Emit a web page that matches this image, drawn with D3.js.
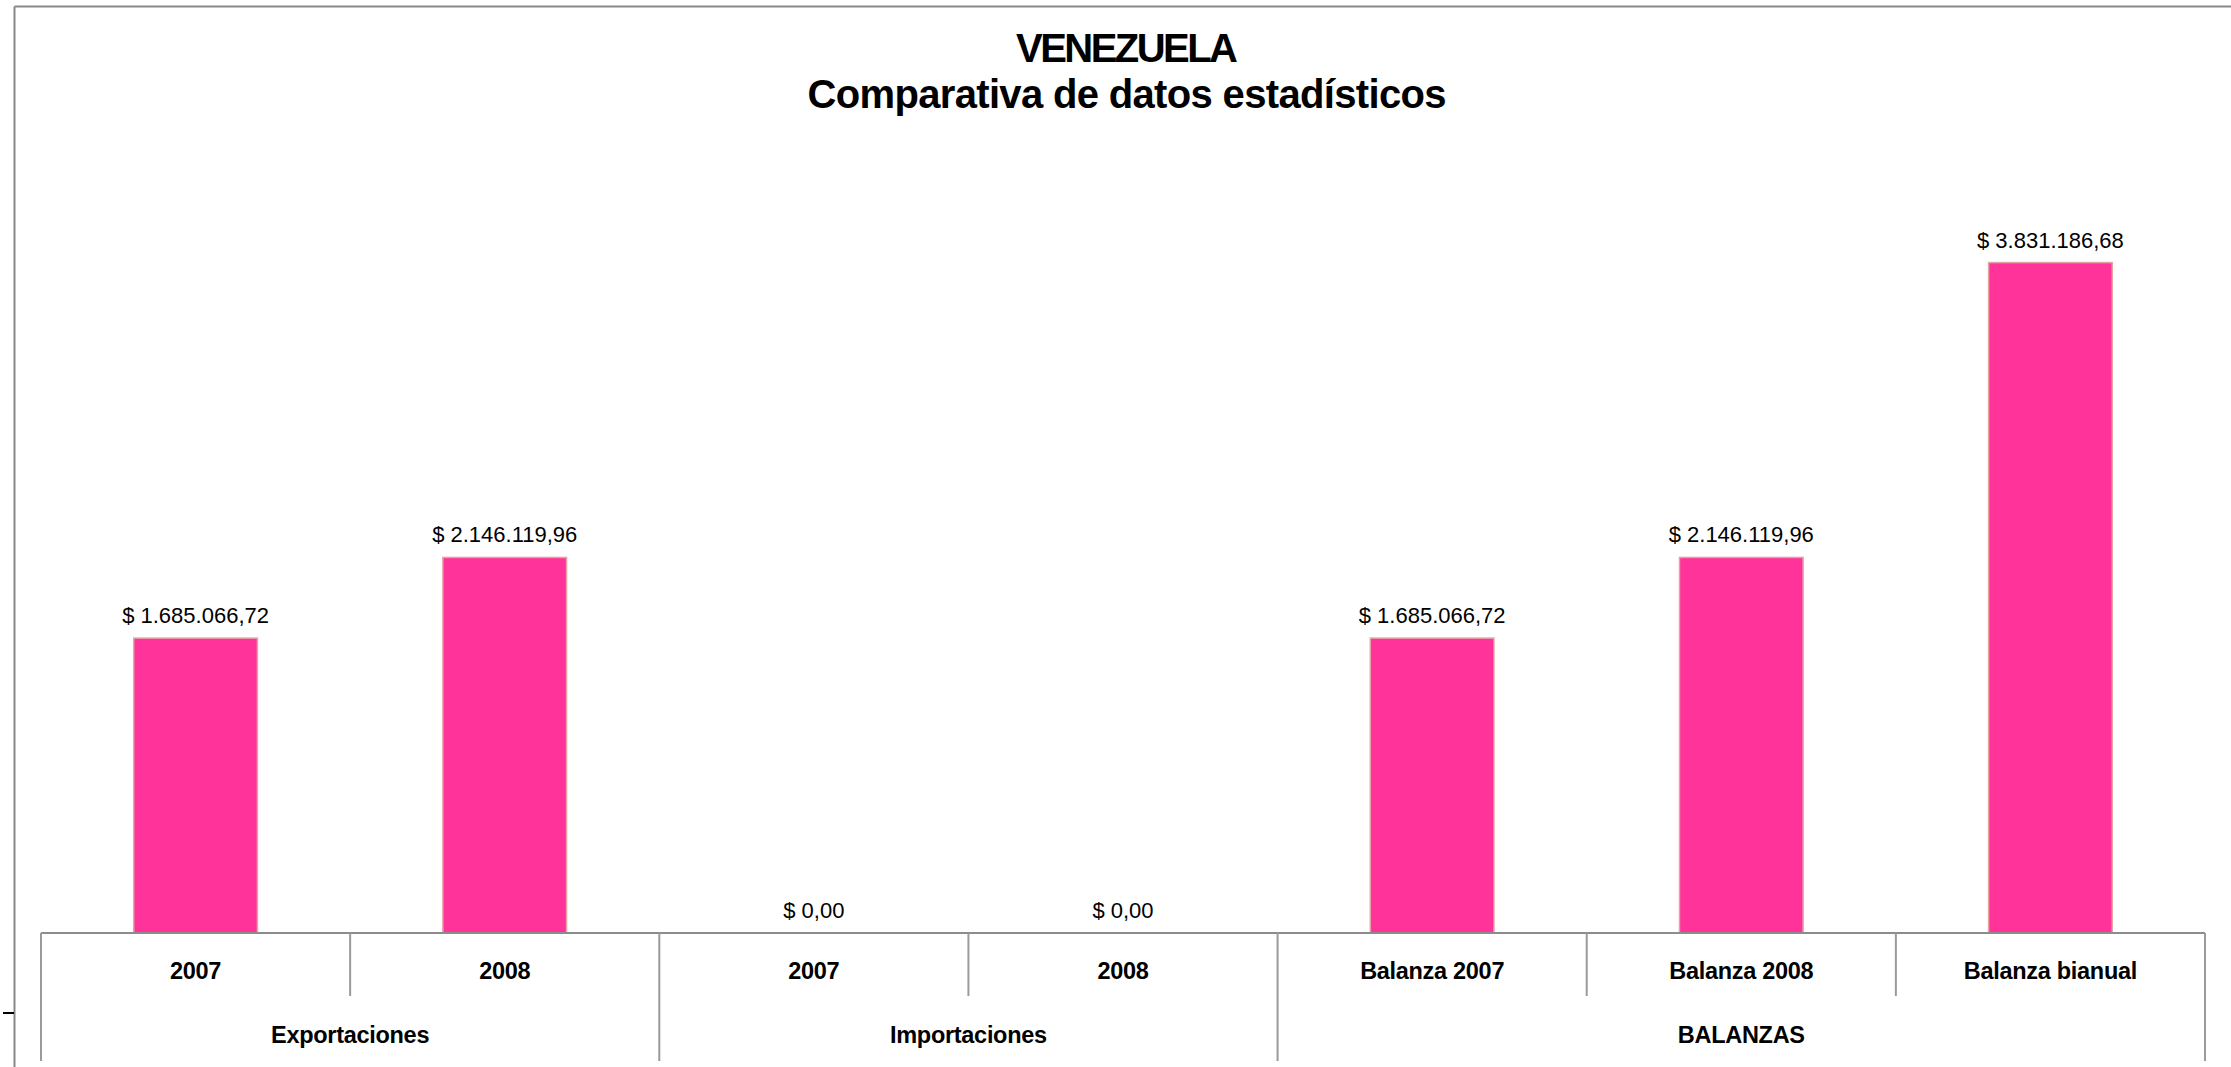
<!DOCTYPE html>
<html>
<head>
<meta charset="utf-8">
<script src="https://cdn.jsdelivr.net/npm/d3@7"></script>
<style>
html,body{margin:0;padding:0;background:#fff;}
svg{display:block;}
</style>
</head>
<body>
<svg id="chart" width="2231" height="1067"></svg>
<script>
const titleLines = ["VENEZUELA", "Comparativa de datos estadísticos"];
const categories = ["2007", "2008", "2007", "2008", "Balanza 2007", "Balanza 2008", "Balanza bianual"];
const groups = ["Exportaciones", "Exportaciones", "Importaciones", "Importaciones", "BALANZAS", "BALANZAS", "BALANZAS"];
const values = [1685066.72, 2146119.96, 0, 0, 1685066.72, 2146119.96, 3831186.68];
const yMax = 4500000;

const W = 2231, H = 1067;
const plot = {left: 41, right: 2205, base: 933, top: 145.5};
const svg = d3.select("#chart");
const font = "'Liberation Sans', Arial, sans-serif";

const keys = categories.map((c, i) => i);
const x = d3.scaleBand().domain(keys).range([plot.left, plot.right]).paddingInner(0.6).paddingOuter(0.3);
const xCell = d3.scaleBand().domain(keys).range([plot.left, plot.right]).padding(0);
const y = d3.scaleLinear().domain([0, yMax]).range([plot.base, plot.top]);

const loc = d3.formatLocale({decimal: ",", thousands: ".", grouping: [3], currency: ["$ ", ""]});
const fmt = loc.format("$,.2f");

// outer frame
svg.append("line").attr("x1", 14.5).attr("x2", W).attr("y1", 6.5).attr("y2", 6.5)
  .attr("stroke", "#888").attr("stroke-width", 2);
svg.append("line").attr("x1", 14.5).attr("x2", 14.5).attr("y1", 6.5).attr("y2", H)
  .attr("stroke", "#888").attr("stroke-width", 2);
// stray tick
svg.append("line").attr("x1", 3).attr("x2", 14).attr("y1", 1013).attr("y2", 1013)
  .attr("stroke", "#000").attr("stroke-width", 2);

// title
const tt = svg.append("text").attr("text-anchor", "middle").attr("font-family", font)
  .attr("font-weight", "bold").attr("fill", "#000");
tt.append("tspan").attr("x", 1127).attr("y", 62).attr("font-size", 40)
  .attr("textLength", 222).attr("lengthAdjust", "spacing").text(titleLines[0]);
tt.append("tspan").attr("x", 1127).attr("y", 108).attr("font-size", 40)
  .attr("textLength", 639).attr("lengthAdjust", "spacing").text(titleLines[1]);

// bars
svg.append("g").selectAll("rect").data(values).join("rect")
  .attr("x", (d, i) => x(i)).attr("width", x.bandwidth())
  .attr("y", d => y(d)).attr("height", d => y(0) - y(d))
  .attr("fill", "#FF3399").attr("stroke", "#e4a4a4").attr("stroke-width", 1.5);

// data labels
svg.append("g").selectAll("text").data(values).join("text")
  .attr("x", (d, i) => x(i) + x.bandwidth() / 2).attr("y", d => y(d) - 15)
  .attr("text-anchor", "middle").attr("font-family", font).attr("font-size", 22)
  .attr("fill", "#000").text(d => fmt(d));

// category axis
const ax = svg.append("g").attr("stroke", "#8c8c8c").attr("stroke-width", 2);
ax.append("line").attr("x1", plot.left).attr("x2", plot.right).attr("y1", plot.base).attr("y2", plot.base);
const bounds = keys.map(i => xCell(i)).concat([xCell(keys.length - 1) + xCell.bandwidth()]);
bounds.forEach((bx, j) => {
  const isGroupEdge = j === 0 || j === keys.length || groups[j] !== groups[j - 1];
  ax.append("line").attr("x1", bx).attr("x2", bx).attr("y1", plot.base)
    .attr("y2", isGroupEdge ? 1061 : 996).attr("stroke", "#9a9a9a");
});

// category labels
svg.append("g").selectAll("text").data(categories).join("text")
  .attr("x", (d, i) => xCell(i) + xCell.bandwidth() / 2).attr("y", 979)
  .attr("text-anchor", "middle").attr("font-family", font).attr("font-weight", "bold")
  .attr("font-size", 23.5).attr("letter-spacing", -0.3).attr("fill", "#000").text(d => d);

// group labels
const groupNames = Array.from(new Set(groups));
svg.append("g").selectAll("text").data(groupNames).join("text")
  .attr("x", g => {
    const idx = keys.filter(i => groups[i] === g);
    return (xCell(idx[0]) + xCell(idx[idx.length - 1]) + xCell.bandwidth()) / 2;
  })
  .attr("y", 1043).attr("text-anchor", "middle").attr("font-family", font).attr("font-weight", "bold")
  .attr("font-size", 23.5).attr("letter-spacing", -0.3).attr("fill", "#000").text(g => g);
</script>
</body>
</html>
